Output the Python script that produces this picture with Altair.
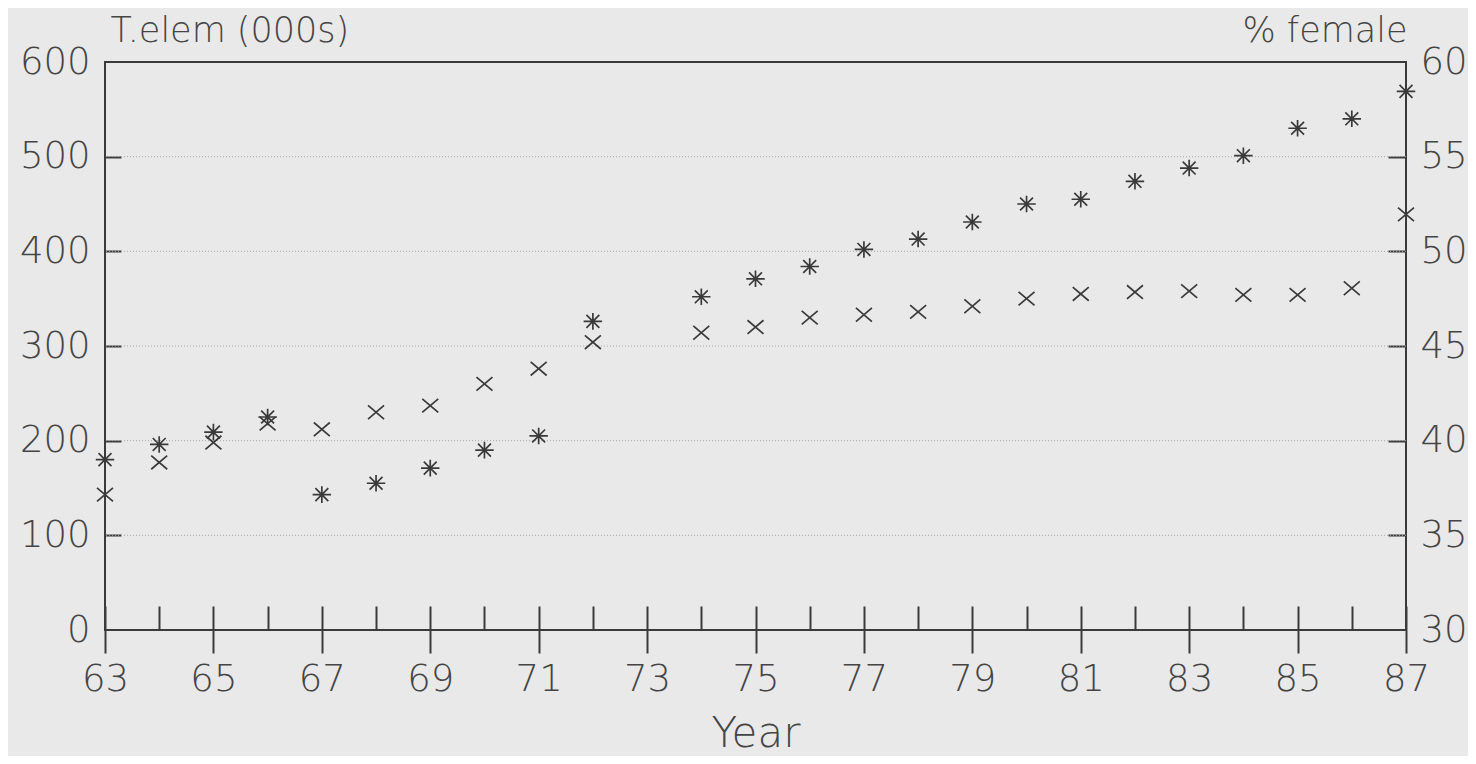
import altair as alt
import pandas as pd

years = [63, 64, 65, 66, 67, 68, 69, 70, 71, 72,
         74, 75, 76, 77, 78, 79, 80, 81, 82, 83, 84, 85, 86, 87]
telem = [180, 196, 209, 225, 143, 155, 171, 190, 205, 326,
         352, 371, 384, 402, 413, 431, 450, 455, 474, 488, 501, 530, 540, 569]
pct_female = [37.15, 38.85, 39.9, 40.9, 40.6, 41.5, 41.85, 43.0, 43.8, 45.2,
              45.7, 46.0, 46.5, 46.65, 46.8, 47.1, 47.5, 47.75, 47.85, 47.9, 47.7, 47.7, 48.05, 51.95]

left_ticks = [0, 100, 200, 300, 400, 500, 600]
right_ticks = [30, 35, 40, 45, 50, 55, 60]
grid_left = [100, 200, 300, 400, 500]
grid_right = [35, 40, 45, 50, 55]
year_labels = list(range(63, 88, 2))
year_ticks = list(range(63, 88))

df = pd.DataFrame({"year": years, "telem": telem, "pct": pct_female})
gl = pd.DataFrame({"g": grid_left})
gr = pd.DataFrame({"g": grid_right})

FONT = "DejaVu Sans"
TXT = "#454545"
INK = "#3a3a3a"
ASTERISK = "M0,-0.9L0,0.9M-1,0L1,0M-0.7,-0.7L0.7,0.7M-0.7,0.7L0.7,-0.7"
CROSS = "M-1,-0.85L1,0.85M-1,0.85L1,-0.85"

xscale = alt.Scale(domain=[63, 87], nice=False, zero=False)
lscale = alt.Scale(domain=[0, 600], nice=False, zero=False)
rscale = alt.Scale(domain=[30, 60], nice=False, zero=False)

common_axis = dict(labelFont=FONT, labelFontSize=37, labelFontWeight=200, labelColor=TXT,
                   titleFont=FONT, titleFontWeight=200, titleColor=TXT, grid=False,
                   domainColor=INK, tickColor=INK, domainWidth=2, tickWidth=2)

stars = alt.Chart(df).mark_point(shape=ASTERISK, size=340, filled=False,
                                 stroke=INK, strokeWidth=1.7, opacity=1).encode(
    x=alt.X("year:Q", scale=xscale,
            axis=alt.Axis(orient="bottom", values=year_labels, tickSize=23, labelPadding=8,
                          labelFlush=False, labelOverlap=False, domain=False,
                          title="Year", titleFontSize=42, titleY=116, titleBaseline="alphabetic",
                          **common_axis)),
    y=alt.Y("telem:Q", scale=lscale,
            axis=alt.Axis(orient="left", values=left_ticks, ticks=False, tickSize=0, labelPadding=15,
                          domain=False, labelFlush=False, labelOverlap=False,
                          title="T.elem (000s)", titleAngle=0, titleAlign="left",
                          titleBaseline="alphabetic", titleX=5, titleY=-21, titleFontSize=35,
                          **common_axis)),
)

crosses = alt.Chart(df).mark_point(shape=CROSS, size=256, filled=False,
                                   stroke=INK, strokeWidth=1.7, opacity=1).encode(
    x=alt.X("year:Q", scale=xscale,
            axis=alt.Axis(orient="bottom", values=year_ticks, tickSize=24, offset=-24,
                          labels=False, domain=False, title=None, **common_axis)),
    y=alt.Y("pct:Q", scale=rscale,
            axis=alt.Axis(orient="right", values=right_ticks, ticks=False, tickSize=0, labelPadding=14,
                          domain=False, labelFlush=False, labelOverlap=False,
                          title="% female", titleAngle=0, titleAlign="right",
                          titleBaseline="alphabetic", titleX=1, titleY=-21, titleFontSize=35,
                          **common_axis)),
)

grid_l = alt.Chart(gl).mark_rule(color="#a8a8a8", strokeDash=[1, 2], strokeWidth=1).encode(
    y=alt.Y("g:Q", scale=lscale,
            axis=alt.Axis(orient="left", values=grid_left, tickSize=16, offset=-16,
                          labels=False, domain=False, title=None, **common_axis)),
)

grid_r = alt.Chart(gr).mark_rule(opacity=0).encode(
    y=alt.Y("g:Q", scale=rscale,
            axis=alt.Axis(orient="right", values=grid_right, tickSize=18, offset=-18,
                          labels=False, domain=False, title=None, **common_axis)),
)

chart = alt.layer(grid_l, grid_r, stars, crosses).resolve_scale(
    y="independent"
).resolve_axis(
    x="independent", y="independent"
).properties(
    width=1301, height=568,
    autosize=alt.AutoSizeParams(type="none"),
    padding={"left": 97, "top": 54, "right": 62, "bottom": 126},
    background="#e9e9e9",
).configure_view(
    stroke=INK, strokeWidth=2
)

chart.save("out.html", embed_options={"renderer": "svg", "actions": False})
